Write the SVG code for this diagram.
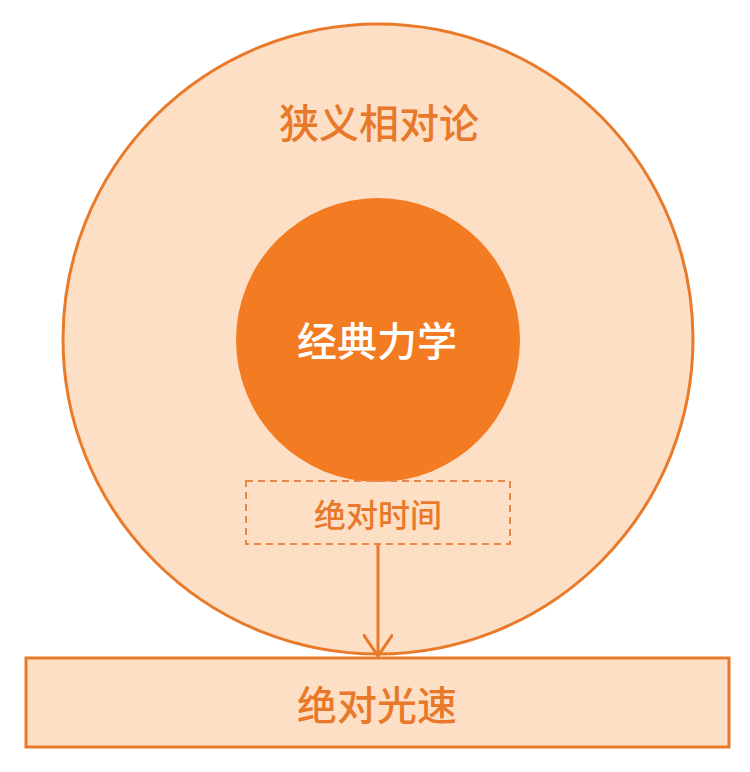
<svg xmlns="http://www.w3.org/2000/svg" width="750" height="772" viewBox="0 0 750 772">
<style>
.t{font-family:"Noto Sans CJK SC","Noto Sans",sans-serif;font-weight:500;text-anchor:middle;dominant-baseline:central}
.o{fill:#E8792A}
.stroke{stroke:#E87A2A;stroke-width:3}
</style>
<defs>
<marker id="arr" viewBox="0 0 30 30" refX="22" refY="15" markerWidth="30" markerHeight="30" markerUnits="userSpaceOnUse" orient="auto">
<path d="M0,0 L22,15 L0,30" fill="none" stroke="#E87A2A" stroke-width="3"/>
</marker>
</defs>
<rect width="750" height="772" fill="#ffffff"/>
<g id="outer">
<circle cx="378" cy="339" r="315" fill="#FDDFC6" class="stroke"/>
<text class="t o" x="379" y="121" font-size="40">狭义相对论</text>
</g>
<g id="inner">
<circle cx="378" cy="340" r="142" fill="#F37B22"/>
<text class="t" x="377" y="339" font-size="40" fill="#ffffff">经典力学</text>
</g>
<g id="abs-time">
<rect x="246" y="481" width="264" height="63" fill="none" stroke="#E8874A" stroke-width="2" stroke-dasharray="7,5"/>
<text class="t o" x="378" y="513" font-size="32">绝对时间</text>
</g>
<g id="abs-light">
<rect x="26" y="658" width="703" height="89" fill="#FDDFC6" class="stroke"/>
<text class="t o" x="377" y="703" font-size="40">绝对光速</text>
</g>
<g id="connectors">
<line x1="378" y1="544" x2="378" y2="656" class="stroke" marker-end="url(#arr)"/>
</g>
</svg>
